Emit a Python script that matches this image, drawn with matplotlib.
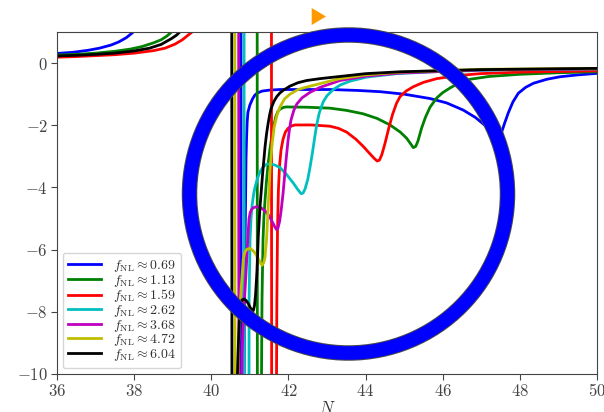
import numpy as np
import matplotlib
matplotlib.use("Agg")
import matplotlib.pyplot as plt
from matplotlib.patches import Ellipse, Polygon
from matplotlib.ticker import FuncFormatter

plt.rcParams['mathtext.fontset'] = 'cm'
plt.rcParams['font.family'] = 'DejaVu Serif'

fnl = [0.69, 1.13, 1.59, 2.62, 3.68, 4.72, 6.04]
colors = ['b', 'g', 'r', 'c', 'm', 'y', 'k']

# N where each curve shoots through the whole window (pole)
pole_N = [40.77, 41.19, 41.56, 40.85, 40.71, 40.61, 40.53]

# left branches (only the ones that show)
left_N_b = [36.0, 36.4, 36.8, 37.1, 37.4, 37.6, 37.8, 37.95, 38.05, 38.15]
left_y_b = [0.31, 0.345, 0.41, 0.48, 0.58, 0.68, 0.82, 0.97, 1.1, 1.4]
left_N_g = [36.0, 36.5, 37.0, 37.5, 37.9, 38.2, 38.5, 38.7, 38.85, 38.97, 39.05]
left_y_g = [0.26, 0.28, 0.32, 0.38, 0.45, 0.53, 0.65, 0.75, 0.87, 1.0, 1.2]
left_N_r = [36.0, 36.5, 37.0, 37.5, 38.0, 38.5, 38.8, 39.06, 39.25, 39.4, 39.53, 39.6]
left_y_r = [0.19, 0.21, 0.24, 0.27, 0.32, 0.40, 0.48, 0.61, 0.75, 0.9, 1.03, 1.2]
left_N_k = [36.0, 36.5, 37.0, 37.5, 38.0, 38.4, 38.7, 38.97, 39.1, 39.2, 39.26]
left_y_k = [0.23, 0.25, 0.28, 0.32, 0.39, 0.48, 0.60, 0.79, 0.9, 1.02, 1.2]

# right branches
N_b = [40.85, 40.86, 40.874, 40.89, 40.90, 40.915, 40.93, 40.95, 41.0, 41.07, 41.13,
       41.2, 41.32, 41.5, 41.78, 42.5, 43.08, 43.8, 44.38, 45.0, 45.67, 46.1, 46.53,
       46.85, 47.14, 47.35, 47.46, 47.52, 47.6, 47.7, 47.82, 47.96, 48.15, 48.35,
       48.7, 49.04, 49.5, 50.0]
y_b = [-10.5, -8.0, -6.0, -4.3, -3.1, -2.4, -1.9, -1.58, -1.35, -1.15, -1.03,
       -0.96, -0.90, -0.87, -0.85, -0.85, -0.85, -0.88, -0.92, -1.0, -1.14, -1.28, -1.51,
       -1.75, -2.05, -2.25, -2.32, -2.25, -1.95, -1.6, -1.25, -0.97, -0.78, -0.65,
       -0.52, -0.44, -0.38, -0.33]

N_g = [41.30, 41.31, 41.315, 41.33, 41.341, 41.365, 41.393, 41.43, 41.471, 41.52,
       41.574, 41.63, 41.678, 41.73, 41.782, 41.86, 41.937, 42.5, 43.078, 43.5,
       43.934, 44.3, 44.634, 44.9, 45.067, 45.17, 45.238, 45.3, 45.36, 45.45, 45.55,
       45.67, 45.845, 46.0, 46.19, 46.45, 46.71, 47.2, 48.0, 49.0, 50.0]
y_g = [-10.5, -8.5, -7.62, -6.5, -5.69, -4.95, -4.41, -3.8, -3.28, -2.78,
       -2.32, -1.95, -1.70, -1.55, -1.48, -1.43, -1.41, -1.42, -1.45, -1.52,
       -1.63, -1.78, -1.99, -2.22, -2.42, -2.6, -2.72, -2.68, -2.5, -2.1, -1.75,
       -1.42, -1.12, -0.95, -0.8, -0.62, -0.52, -0.43, -0.36, -0.31, -0.28]

N_r = [41.69, 41.70, 41.717, 41.74, 41.77, 41.808, 41.86, 41.92, 41.99, 42.08,
       42.171, 42.6, 43.078, 43.3, 43.51, 43.75, 43.94, 44.1, 44.22, 44.3, 44.36,
       44.42, 44.5, 44.6, 44.7, 44.8, 44.893, 45.05, 45.238, 45.5, 45.845, 46.4,
       46.967, 48.0, 50.0]
y_r = [-10.5, -7.6, -5.37, -4.1, -3.3, -2.80, -2.45, -2.22, -2.1, -2.02,
       -1.99, -1.99, -2.03, -2.1, -2.22, -2.45, -2.68, -2.9, -3.06, -3.15, -3.12,
       -2.95, -2.6, -2.1, -1.65, -1.3, -1.08, -0.9, -0.76, -0.62, -0.5, -0.4,
       -0.34, -0.29, -0.25]

N_c = [40.978, 40.98, 41.004, 41.03, 41.06, 41.1, 41.134, 41.2, 41.263, 41.35,
       41.437, 41.52, 41.65, 41.782, 41.95, 42.127, 42.25, 42.33, 42.38, 42.43,
       42.5, 42.56, 42.62, 42.68, 42.733, 42.8, 42.9, 43.0, 43.163, 43.35, 43.6,
       44.03, 44.8, 45.75, 47.5, 50.0]
y_c = [-10.5, -7.6, -5.69, -5.0, -4.55, -4.2, -3.99, -3.7, -3.50, -3.33,
       -3.25, -3.24, -3.28, -3.36, -3.58, -3.86, -4.08, -4.2, -4.18, -4.05,
       -3.75, -3.35, -2.9, -2.4, -1.98, -1.6, -1.25, -1.05, -0.85, -0.7, -0.58,
       -0.45, -0.34, -0.28, -0.22, -0.19]

N_m = [40.789, 40.80, 40.822, 40.85, 40.874, 40.9, 40.918, 40.94, 40.96, 40.98,
       41.01, 41.05, 41.09, 41.178, 41.28, 41.393, 41.49, 41.567, 41.64, 41.69,
       41.73, 41.77, 41.81, 41.86, 41.9, 41.94, 41.989, 42.03, 42.067, 42.14,
       42.215, 42.35, 42.56, 42.82, 43.337, 44.0, 44.893, 47.0, 50.0]
y_m = [-10.5, -9.3, -8.59, -7.8, -7.30, -6.75, -6.33, -5.8, -5.35, -5.0,
       -4.8, -4.7, -4.65, -4.62, -4.65, -4.75, -4.9, -5.07, -5.25, -5.35,
       -5.3, -5.1, -4.75, -4.2, -3.65, -3.1, -2.5, -2.1, -1.83, -1.52,
       -1.32, -1.12, -0.94, -0.78, -0.56, -0.42, -0.32, -0.22, -0.18]

N_y = [40.68, 40.70, 40.719, 40.75, 40.789, 40.83, 40.87, 40.918, 41.004, 41.07,
       41.134, 41.237, 41.29, 41.32, 41.36, 41.393, 41.432, 41.471, 41.522, 41.574,
       41.626, 41.704, 41.782, 41.9, 42.041, 42.25, 42.474, 42.82, 43.337, 44.0,
       44.893, 47.0, 50.0]
y_y = [-10.5, -9.4, -8.59, -7.7, -7.0, -6.3, -6.08, -5.99, -5.96, -6.02,
       -6.11, -6.33, -6.46, -6.5, -6.42, -6.24, -5.69, -4.73, -3.44, -2.64,
       -2.09, -1.67, -1.41, -1.15, -1.0, -0.85, -0.77, -0.66, -0.5, -0.38,
       -0.29, -0.2, -0.17]

N_k = [40.667, 40.69, 40.706, 40.725, 40.745, 40.77, 40.796, 40.848, 40.9, 40.952,
       41.03, 41.06, 41.09, 41.12, 41.147, 41.17, 41.186, 41.22, 41.263, 41.328,
       41.393, 41.43, 41.471, 41.51, 41.548, 41.62, 41.696, 41.78, 41.86, 42.041,
       42.25, 42.474, 42.82, 43.337, 44.0, 44.893, 46.967, 50.0]
y_k = [-10.5, -9.5, -8.91, -8.35, -7.94, -7.72, -7.62, -7.59, -7.63, -7.72,
       -7.91, -7.97, -7.96, -7.8, -7.46, -7.0, -6.66, -5.53, -4.63, -3.60,
       -2.70, -2.3, -1.96, -1.68, -1.47, -1.24, -1.08, -0.96, -0.88, -0.74,
       -0.63, -0.56, -0.5, -0.43, -0.34, -0.28, -0.21, -0.17]

right_N = [N_b, N_g, N_r, N_c, N_m, N_y, N_k]
right_y = [y_b, y_g, y_r, y_c, y_m, y_y, y_k]
left = {'b': (left_N_b, left_y_b), 'g': (left_N_g, left_y_g),
        'r': (left_N_r, left_y_r), 'k': (left_N_k, left_y_k)}

fig = plt.figure(figsize=(6.04, 4.12), dpi=100)
ax = fig.add_axes([57/604, 1-374/412, 540/604, 342/412])

lw = 2.0
for i, c in enumerate(colors):
    if c in left:
        ax.plot(left[c][0], left[c][1], color=c, lw=lw)
    ax.plot([pole_N[i], pole_N[i] + 0.005], [1.5, -10.5], color=c, lw=lw)
    ax.plot(right_N[i], right_y[i], color=c, lw=lw,
            label=r'$f_{\rm NL} \approx %.2f$' % fnl[i])

ax.set_xlim(36, 50)
ax.set_ylim(-10, 1)
ax.set_xticks(np.arange(36, 51, 2))
ax.set_yticks(np.arange(-10, 1, 2))
fmt = FuncFormatter(lambda v, p: r'$%d$' % v)
ax.xaxis.set_major_formatter(fmt)
ax.yaxis.set_major_formatter(fmt)
ax.tick_params(labelsize=12, colors='#444444', direction='out', length=4, pad=2.5)
for s in ax.spines.values():
    s.set_color('#444444')
ax.set_xlabel(r'$N$', fontsize=12, color='#333333', labelpad=0)

leg = ax.legend(loc='lower left', fontsize=10, labelspacing=-0.1,
                handlelength=2.4, borderaxespad=0.4, framealpha=0.8)
for t in leg.get_texts():
    t.set_color('#333333')

# overlay: ring and orange arrowhead
W, H = 604, 412
cx, cy, r = 348.5, 194, 159
fig.add_artist(Ellipse((cx/W, 1-cy/H), 2*r/W, 2*r/H, transform=fig.transFigure,
                       fill=False, ec='#4a4a4a', lw=15.5*0.72, zorder=10))
fig.add_artist(Ellipse((cx/W, 1-cy/H), 2*r/W, 2*r/H, transform=fig.transFigure,
                       fill=False, ec='#0000ff', lw=13.5*0.72, zorder=11))
tri = [(311.7, 8), (311.7, 25), (326, 16.5)]
fig.add_artist(Polygon([(x/W, 1-y/H) for x, y in tri], closed=True,
                       transform=fig.transFigure, fc='#ff9900', ec='none', zorder=12))

fig.savefig('out.png', dpi=100)
